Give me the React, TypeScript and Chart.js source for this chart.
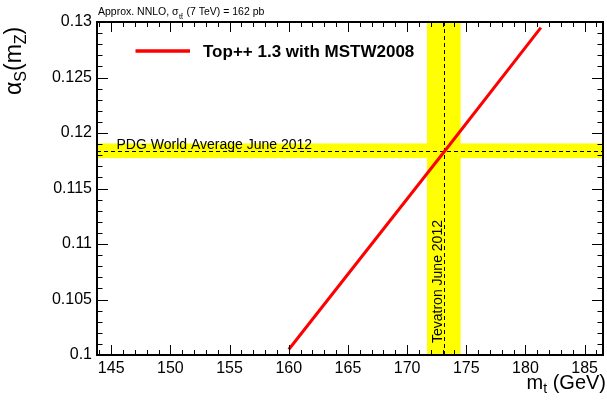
import React, { useEffect, useRef } from "react";
import { Chart, registerables } from "chart.js";
Chart.register(...registerables);

// ---- data ----
const xMajorTicks = [145, 150, 155, 160, 165, 170, 175, 180, 185];
const yMajorTicks = [0.1, 0.105, 0.11, 0.115, 0.12, 0.125, 0.13];
const xMin = 143.8;
const xMax = 186.55;
const yMin = 0.1;
const yMax = 0.13;
const seriesLabel = "Top++ 1.3 with MSTW2008";
const mtValues = [160, 173.2, 181.3];
const alphaValues = [0.1005, 0.1184, 0.1295];
const pdgAlpha = 0.1184;
const pdgErr = 0.00066;
const tevMt = 173.1;
const tevErr = 1.42;
const pdgLabel = "PDG World Average June 2012";
const tevLabel = "Tevatron June 2012";

const FONT = "'Liberation Sans', Arial, sans-serif";

function seg(ctx: CanvasRenderingContext2D, x1: number, y1: number, x2: number, y2: number) {
  ctx.beginPath();
  ctx.moveTo(x1, y1);
  ctx.lineTo(x2, y2);
  ctx.stroke();
}

const customPlugin = {
  id: "custom",
  beforeDatasetsDraw(chart: any) {
    const { ctx, chartArea: a, scales } = chart;
    const x = scales.x;
    const y = scales.y;
    ctx.save();
    ctx.fillStyle = "#ffff00";
    const bx1 = x.getPixelForValue(tevMt - tevErr);
    const bx2 = x.getPixelForValue(tevMt + tevErr);
    ctx.fillRect(bx1, a.top, bx2 - bx1, a.bottom - a.top);
    const by1 = y.getPixelForValue(pdgAlpha + pdgErr);
    const by2 = y.getPixelForValue(pdgAlpha - pdgErr);
    ctx.fillRect(a.left, by1, a.right - a.left, by2 - by1);

    ctx.strokeStyle = "#000";
    ctx.lineWidth = 1;
    ctx.setLineDash([4, 3]);
    const px = Math.round(x.getPixelForValue(tevMt)) + 0.5;
    seg(ctx, px, a.top, px, a.bottom);
    const py = Math.round(y.getPixelForValue(pdgAlpha)) + 0.5;
    seg(ctx, a.left, py, a.right, py);
    ctx.setLineDash([]);

    ctx.fillStyle = "#000";
    ctx.font = `14px ${FONT}`;
    ctx.textAlign = "left";
    ctx.textBaseline = "alphabetic";
    ctx.fillText(pdgLabel, a.left + 19.5, py - 3);

    ctx.save();
    ctx.translate(px - 2.5, a.bottom - 12);
    ctx.rotate(-Math.PI / 2);
    ctx.fillText(tevLabel, 0, 0);
    ctx.restore();
    ctx.restore();
  },
  afterDraw(chart: any) {
    const { ctx, chartArea: a, scales } = chart;
    const x = scales.x;
    const y = scales.y;
    ctx.save();
    ctx.strokeStyle = "#000";
    ctx.lineWidth = 1;
    // x ticks (minor every 1, major every 5)
    for (let v = Math.ceil(xMin); v <= Math.floor(xMax); v++) {
      const len = v % 5 === 0 ? 10 : 5;
      const p = Math.round(x.getPixelForValue(v)) + 0.5;
      seg(ctx, p, a.bottom, p, a.bottom - len);
      seg(ctx, p, a.top, p, a.top + len);
    }
    for (let k = 100; k <= 130; k++) {
      const len = k % 5 === 0 ? 11 : 5.5;
      const p = Math.round(y.getPixelForValue(k / 1000)) + 0.5;
      seg(ctx, a.left, p, a.left + len, p);
      seg(ctx, a.right, p, a.right - len, p);
    }
    ctx.lineWidth = 2;
    ctx.strokeRect(a.left, a.top, a.right - a.left, a.bottom - a.top);

    // legend
    ctx.strokeStyle = "#ff0000";
    ctx.lineWidth = 3.5;
    seg(ctx, a.left + 38.5, 51, a.left + 93, 51);
    ctx.fillStyle = "#000";
    ctx.font = `bold 17px ${FONT}`;
    ctx.textAlign = "left";
    ctx.textBaseline = "alphabetic";
    ctx.fillText(seriesLabel, a.left + 106, 57);

    // top annotation
    let cx = 98;
    ctx.font = `10.5px ${FONT}`;
    const t1 = "Approx. NNLO, \u03c3";
    ctx.fillText(t1, cx, 15);
    cx += ctx.measureText(t1).width;
    ctx.font = `7px ${FONT}`;
    const t2 = "t t\u0304";
    ctx.fillText("tt\u0304", cx + 0.5, 18.5);
    cx += ctx.measureText("tt").width + 1;
    ctx.font = `10.5px ${FONT}`;
    ctx.fillText(" (7 TeV) = 162 pb", cx, 15);

    // x title
    const bigX = `20px ${FONT}`;
    const smallX = `14px ${FONT}`;
    ctx.font = bigX;
    const wm = ctx.measureText("m").width;
    const wr = ctx.measureText(" (GeV)").width;
    ctx.font = smallX;
    const wt = ctx.measureText("t").width;
    let sx = 606 - (wm + wt + wr);
    ctx.font = bigX;
    ctx.fillText("m", sx, 389);
    sx += wm;
    ctx.font = smallX;
    ctx.fillText("t", sx, 393);
    sx += wt;
    ctx.font = bigX;
    ctx.fillText(" (GeV)", sx, 389);

    // y title
    ctx.save();
    ctx.translate(21, 95);
    ctx.rotate(-Math.PI / 2);
    const bigY = `23px ${FONT}`;
    const smallY = `16px ${FONT}`;
    const parts: [string, string, number][] = [
      ["\u03b1", bigY, 0],
      ["S", smallY, 5],
      ["(m", bigY, 0],
      ["Z", smallY, 5],
      [")", bigY, 0],
    ];
    let yx = 0;
    for (const [s, f, dy] of parts) {
      ctx.font = f;
      ctx.fillText(s, yx, dy);
      yx += ctx.measureText(s).width;
    }
    ctx.restore();
    ctx.restore();
  },
};

export default function App() {
  const ref = useRef<HTMLCanvasElement | null>(null);
  useEffect(() => {
    if (!ref.current) return;
    const chart = new Chart(ref.current, {
      type: "line",
      data: {
        datasets: [
          {
            label: seriesLabel,
            data: mtValues.map((m, i) => ({ x: m, y: alphaValues[i] })),
            borderColor: "#ff0000",
            borderWidth: 3,
            pointRadius: 0,
            tension: 0,
            fill: false,
          },
        ],
      },
      options: {
        animation: false,
        responsive: false,
        maintainAspectRatio: false,
        layout: { padding: { top: 22, right: 4, left: 0, bottom: 0 } },
        plugins: { legend: { display: false }, tooltip: { enabled: false } },
        scales: {
          x: {
            type: "linear",
            min: xMin,
            max: xMax,
            grid: { display: false, drawTicks: false },
            border: { display: false },
            afterBuildTicks: (s: any) => {
              s.ticks = xMajorTicks.map((value) => ({ value }));
            },
            afterFit: (s: any) => {
              s.height = 47;
            },
            ticks: {
              autoSkip: false,
              maxRotation: 0,
              padding: 4,
              color: "#000",
              font: { family: FONT, size: 16 },
              callback: (v: any) => String(v),
            },
          },
          y: {
            type: "linear",
            min: yMin,
            max: yMax,
            grid: { display: false, drawTicks: false },
            border: { display: false },
            afterBuildTicks: (s: any) => {
              s.ticks = yMajorTicks.map((value) => ({ value }));
            },
            afterFit: (s: any) => {
              s.width = 97;
            },
            ticks: {
              autoSkip: false,
              padding: 5,
              color: "#000",
              font: { family: FONT, size: 16 },
              callback: (v: any) => String(+Number(v).toFixed(3)),
            },
          },
        },
      },
      plugins: [customPlugin],
    });
    return () => chart.destroy();
  }, []);
  return (
    <div style={{ position: "fixed", left: 0, top: 0, width: 607, height: 402, background: "#fff" }}>
      <canvas ref={ref} width={607} height={402} style={{ display: "block" }} />
    </div>
  );
}
